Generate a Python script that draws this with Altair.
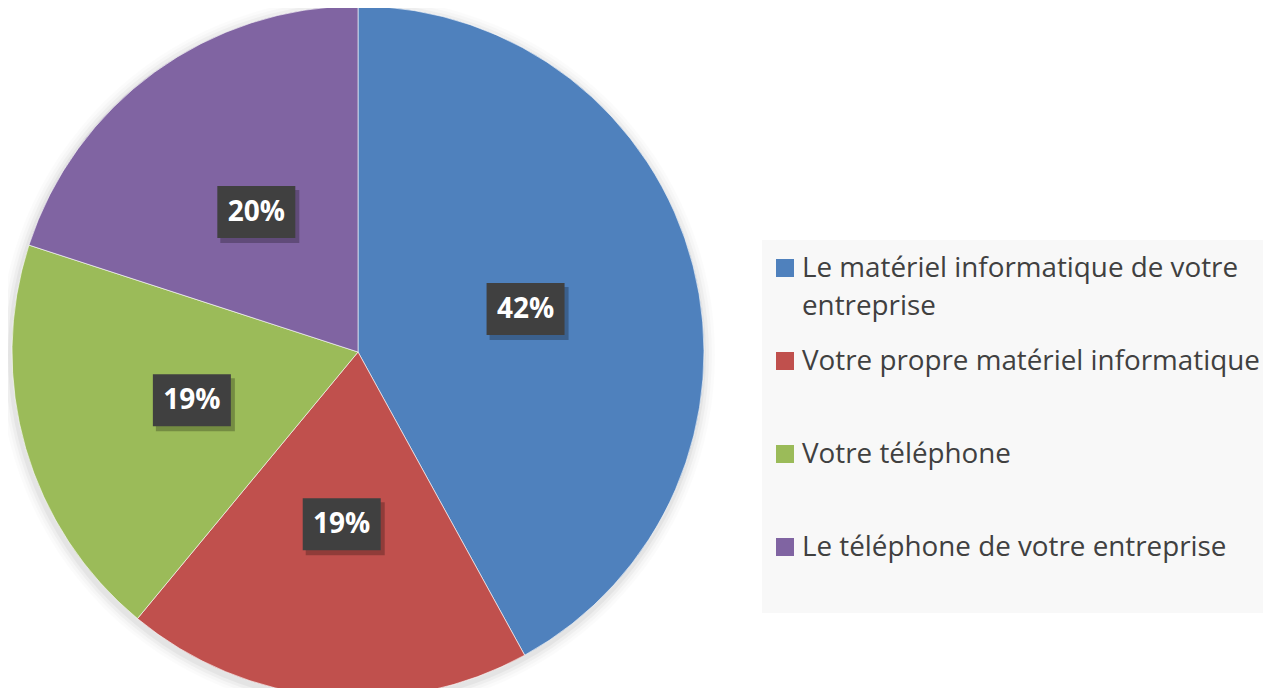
import altair as alt
import pandas as pd

categories = [
    "Le matériel informatique de votre entreprise",
    "Votre propre matériel informatique",
    "Votre téléphone",
    "Le téléphone de votre entreprise",
]
values = [42, 19, 19, 20]
colors = ["#4F81BD", "#C0504D", "#9BBB59", "#8064A2"]
labels = ["42%", "19%", "19%", "20%"]
legend_text = [
    "Le matériel informatique de votre\nentreprise",
    "Votre propre matériel informatique",
    "Votre téléphone",
    "Le téléphone de votre entreprise",
]

W, H = 1255, 680
CX, CY, R = 350, 344, 346
LR = 173
FONT = "Open Sans"

df = pd.DataFrame({
    "cat": categories,
    "value": values,
    "label": labels,
    "legend": legend_text,
    "idx": list(range(len(categories))),
})

base = alt.Chart(df)
color = alt.Color("cat:N", scale=alt.Scale(domain=categories, range=colors), legend=None)

# soft shadow around the pie
shadows = []
for extra, op in [(12, 0.015), (9, 0.02), (6, 0.03), (3, 0.04)]:
    d = 2 * (R + extra)
    shadows.append(
        alt.Chart(pd.DataFrame({"a": [0]})).mark_point(
            shape="circle", filled=True, color="#000000", opacity=op, size=d * d,
            strokeWidth=0
        ).encode(x=alt.value(CX - 1), y=alt.value(CY + 3))
    )

pie = base.mark_arc(radius=R, stroke="#ffffff", strokeWidth=1, strokeOpacity=0.6).encode(
    theta=alt.Theta("value:Q", stack=True),
    order=alt.Order("idx:Q"),
    color=color,
    x=alt.value(CX),
    y=alt.value(CY),
)

lab = base.transform_window(
    cum="sum(value)", sort=[alt.SortField("idx")]
).transform_joinaggregate(total="sum(value)").transform_calculate(
    mid="(datum.cum - datum.value / 2) / datum.total * 2 * PI",
).transform_calculate(
    px=f"{CX} + {LR} * sin(datum.mid)",
    py=f"{CY} - {LR} * cos(datum.mid)",
).transform_calculate(
    x1="datum.px - 39", x2="datum.px + 39", y1="datum.py - 26", y2="datum.py + 26",
    sx1="datum.px - 36", sx2="datum.px + 43", sy1="datum.py - 22", sy2="datum.py + 31",
)

box_shadow = lab.mark_rect(color="#000000", opacity=0.25).encode(
    x=alt.X("sx1:Q", scale=None), x2="sx2:Q",
    y=alt.Y("sy1:Q", scale=None), y2="sy2:Q",
)
box = lab.mark_rect(color="#404040").encode(
    x=alt.X("x1:Q", scale=None), x2="x2:Q",
    y=alt.Y("y1:Q", scale=None), y2="y2:Q",
)
txt = lab.mark_text(font=FONT, fontSize=28, fontWeight="bold", color="#ffffff",
                    baseline="middle", align="center", dy=1).encode(
    x=alt.X("px:Q", scale=None), y=alt.Y("py:Q", scale=None), text="label:N"
)

# legend
leg_bg = alt.Chart(pd.DataFrame({"a": [0]})).mark_rect(color="#f8f8f8").encode(
    x=alt.value(754), x2=alt.value(1263), y=alt.value(232), y2=alt.value(605)
)
leg = base.transform_calculate(
    ly="260 + 93 * datum.idx", ty="269 + 93 * datum.idx"
)
leg_sq = leg.mark_square(size=18 * 18, opacity=1, filled=True).encode(
    x=alt.value(777), y=alt.Y("ly:Q", scale=None), color=color
)
leg_txt = leg.mark_text(font=FONT, fontSize=27.8, color="#404040", align="left",
                        baseline="alphabetic", lineBreak="\n", lineHeight=38).encode(
    x=alt.value(794), y=alt.Y("ty:Q", scale=None), text="legend:N"
)

chart = alt.layer(*shadows, pie, box_shadow, box, txt, leg_bg, leg_sq, leg_txt).properties(
    width=W, height=H, padding=0, autosize=alt.AutoSizeParams(type="none")
).configure_view(strokeWidth=0, strokeOpacity=0)

chart.save("out.html", embed_options={"renderer": "svg", "actions": False})
